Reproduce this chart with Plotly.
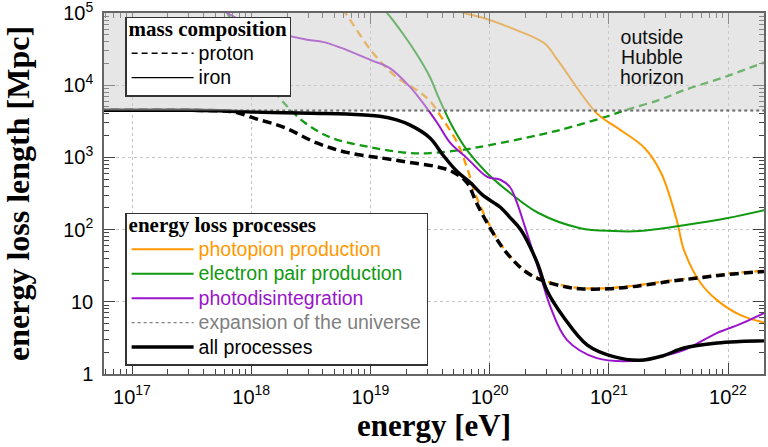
import numpy as np
import plotly.graph_objects as go

# ---------------- data (log10 of energy in eV, log10 of loss length in Mpc) ----------------
HUBBLE_MPC = 4480.0

# proton, photopion production
p_pion_logE = [18.70, 18.79, 19.02, 19.22, 19.40, 19.50, 19.61, 19.73, 19.81, 19.89, 20.00, 20.10,
               20.20, 20.30, 20.42, 20.60, 20.76, 21.00, 21.20, 21.50, 21.80, 22.00, 22.31]
p_pion_logL = [5.20, 5.00, 4.45, 4.11, 3.92, 3.78, 3.52, 3.20, 2.86, 2.45, 2.06, 1.78,
               1.58, 1.43, 1.32, 1.23, 1.19, 1.19, 1.22, 1.29, 1.35, 1.39, 1.43]

# proton, electron pair production
p_pair_logE = [17.80, 17.95, 18.12, 18.24, 18.33, 18.45, 18.66, 19.00, 19.33, 19.50, 19.75, 20.00,
               20.41, 20.59, 20.95, 21.15, 21.43, 21.63, 22.00, 22.31]
p_pair_logL = [5.00, 4.55, 4.10, 3.82, 3.66, 3.48, 3.28, 3.14, 3.06, 3.06, 3.10, 3.17,
               3.31, 3.38, 3.55, 3.66, 3.80, 3.93, 4.13, 4.32]

# proton, all processes
p_all_logE = [16.70, 17.50, 17.80, 17.88, 18.05, 18.27, 18.55, 18.80, 19.10, 19.33, 19.56, 19.69,
              19.81, 19.89, 19.98, 20.10, 20.20, 20.30, 20.42, 20.60, 20.76, 21.00, 21.20, 21.50,
              21.80, 22.00, 22.31]
p_all_logL = [3.652, 3.652, 3.64, 3.62, 3.53, 3.42, 3.20, 3.07, 2.99, 2.93, 2.87, 2.80,
              2.65, 2.37, 2.09, 1.77, 1.57, 1.42, 1.31, 1.22, 1.18, 1.18, 1.21, 1.28,
              1.34, 1.38, 1.42]

# iron, photopion production
fe_pion_logE = [19.60, 19.785, 19.95, 20.20, 20.46, 20.57, 20.90, 21.07, 21.30, 21.44, 21.57,
                21.63, 21.77, 21.91, 22.10, 22.31]
fe_pion_logL = [5.10, 5.00, 4.93, 4.78, 4.58, 4.35, 3.61, 3.41, 3.13, 2.78, 2.13,
                1.72, 1.26, 1.02, 0.82, 0.71]

# iron, electron pair production
fe_pair_logE = [19.10, 19.14, 19.27, 19.40, 19.50, 19.58, 19.69, 19.81, 19.98, 20.17, 20.41,
                20.76, 21.04, 21.26, 21.63, 22.00, 22.31]
fe_pair_logL = [5.07, 5.00, 4.72, 4.40, 4.11, 3.80, 3.42, 3.10, 2.78, 2.51, 2.23,
                2.02, 1.98, 1.98, 2.06, 2.16, 2.27]

# iron, photodisintegration
fe_pd_logE = [17.72, 17.80, 18.10, 18.47, 18.60, 18.75, 19.00, 19.16, 19.33, 19.42, 19.56, 19.67,
              19.81, 19.98, 20.09, 20.17, 20.23, 20.30, 20.42, 20.51, 20.65, 20.90, 21.20,
              21.40, 21.63, 21.91, 22.10, 22.31]
fe_pd_logL = [5.12, 5.00, 4.78, 4.63, 4.60, 4.52, 4.35, 4.24, 3.98, 3.80, 3.48, 3.20,
              2.99, 2.73, 2.69, 2.59, 2.37, 2.02, 1.40, 0.93, 0.47, 0.22, 0.18,
              0.23, 0.33, 0.57, 0.69, 0.85]

# iron, all processes
fe_all_logE = [16.70, 17.50, 18.00, 18.50, 18.80, 19.08, 19.22, 19.33, 19.50, 19.61, 19.73, 19.84,
               19.94, 20.09, 20.17, 20.26, 20.40, 20.48, 20.62, 20.82, 21.04, 21.26, 21.45,
               21.63, 21.91, 22.10, 22.31]
fe_all_logL = [3.652, 3.652, 3.63, 3.61, 3.60, 3.57, 3.52, 3.45, 3.27, 3.03, 2.80, 2.65,
               2.48, 2.31, 2.17, 2.00, 1.54, 1.16, 0.79, 0.40, 0.24, 0.19, 0.25,
               0.36, 0.43, 0.45, 0.46]

hubble_logE = [16.70, 22.31]

x_tickvals = [1e17, 1e18, 1e19, 1e20, 1e21, 1e22]
x_ticktext = ['10<sup>17</sup>', '10<sup>18</sup>', '10<sup>19</sup>', '10<sup>20</sup>',
              '10<sup>21</sup>', '10<sup>22</sup>']
y_tickvals = [1, 10, 100, 1e3, 1e4, 1e5]
y_ticktext = ['1', '10', '10<sup>2</sup>', '10<sup>3</sup>', '10<sup>4</sup>', '10<sup>5</sup>']

horizon_words = ['outside', 'Hubble', 'horizon']

ORANGE = '#ff9900'
GREEN = '#119911'
PURPLE = '#9a14cc'
GREY = '#808080'


def ten(a):
    return np.power(10.0, np.asarray(a, dtype=float))


def label(text, color='black', size=19.5):
    return '<span style="color:%s;font-size:%spx">%s</span>' % (color, size, text)


def title(text, size=21):
    return '<span style="font-size:%spx"><b>%s</b></span>' % (size, text)


fig = go.Figure()

# proton curves (dashed)
fig.add_trace(go.Scatter(x=ten(p_pair_logE), y=ten(p_pair_logL), mode='lines', line_shape='spline',
                         line=dict(color=GREEN, width=2.3, dash='8px,5px'), showlegend=False))
fig.add_trace(go.Scatter(x=ten(p_pion_logE), y=ten(p_pion_logL), mode='lines', line_shape='spline',
                         line=dict(color=ORANGE, width=2.3, dash='8px,5px'), showlegend=False))

# iron process curves (solid) -> legend 2
fig.add_trace(go.Scatter(x=ten(fe_pion_logE), y=ten(fe_pion_logL), mode='lines', line_shape='spline',
                         line=dict(color=ORANGE, width=2),
                         name=label('photopion production', ORANGE), legend='legend2'))
fig.add_trace(go.Scatter(x=ten(fe_pair_logE), y=ten(fe_pair_logL), mode='lines', line_shape='spline',
                         line=dict(color=GREEN, width=2),
                         name=label('electron pair production', GREEN), legend='legend2'))
fig.add_trace(go.Scatter(x=ten(fe_pd_logE), y=ten(fe_pd_logL), mode='lines', line_shape='spline',
                         line=dict(color=PURPLE, width=2),
                         name=label('photodisintegration', PURPLE), legend='legend2'))

# expansion of the universe
fig.add_trace(go.Scatter(x=ten(hubble_logE), y=[HUBBLE_MPC, HUBBLE_MPC], mode='lines',
                         line=dict(color='#555555', width=2.2, dash='dot'), showlegend=False))
fig.add_trace(go.Scatter(x=[None], y=[None], mode='lines',
                         line=dict(color=GREY, width=1.3, dash='dot'),
                         name=label('expansion of the universe', GREY), legend='legend2'))

# all processes
fig.add_trace(go.Scatter(x=ten(p_all_logE), y=ten(p_all_logL), mode='lines', line_shape='spline',
                         line=dict(color='black', width=3.5, dash='9px,5px'), showlegend=False))
fig.add_trace(go.Scatter(x=ten(fe_all_logE), y=ten(fe_all_logL), mode='lines', line_shape='spline',
                         line=dict(color='black', width=3.5), name=label('all processes'),
                         legend='legend2'))

# mass composition legend entries
fig.add_trace(go.Scatter(x=[None], y=[None], mode='lines', line=dict(color='black', width=1.3, dash='6px,4px'),
                         name=label('proton'), legend='legend'))
fig.add_trace(go.Scatter(x=[None], y=[None], mode='lines', line=dict(color='black', width=1.3),
                         name=label('iron'), legend='legend'))

# shaded region beyond the Hubble horizon
fig.add_shape(type='rect', xref='paper', x0=0, x1=1, yref='y',
              y0=HUBBLE_MPC, y1=1e5, fillcolor='rgba(205,205,205,0.5)',
              line=dict(width=0), layer='above')

fig.add_annotation(x=21.36, y=4.39, xref='x', yref='y', showarrow=False,
                   text='<br>'.join('<span style="font-size:19.5px">%s</span>' % w for w in horizon_words),
                   font=dict(family='Liberation Sans', size=15.4, color='#111111'))

axis_common = dict(
    type='log', ticks='inside', ticklen=11, tickwidth=1, tickcolor='#444444',
    minor=dict(ticks='inside', ticklen=5, tickwidth=1, tickcolor='#444444', dtick='D1', showgrid=False),
    showline=True, linecolor='#666666', linewidth=1.5, mirror='ticks',
    showgrid=True, gridcolor='#c4c4c4', griddash='dot', gridwidth=1, zeroline=False,
    tickfont=dict(family='Liberation Sans', size=20, color='black'),
    ticklabeloverflow='allow', automargin=False,
)

legend_common = dict(
    xanchor='left', yanchor='top', bgcolor='white', bordercolor='#333333', borderwidth=1.5,
    itemwidth=62, tracegroupgap=0,
    font=dict(family='Liberation Sans', size=16.5, color='black'),
)

fig.update_layout(
    width=768, height=447,
    margin=dict(l=104, r=4, t=13, b=73, autoexpand=False),
    paper_bgcolor='white', plot_bgcolor='white',
    xaxis=dict(axis_common, range=[16.765, 22.302], tickvals=x_tickvals, ticktext=x_ticktext,
               ticklabelstandoff=4,
               title=dict(text='<b>energy [eV]</b>', standoff=6,
                          font=dict(family='Liberation Serif', size=31, color='black'))),
    yaxis=dict(axis_common, range=[0, 5], tickvals=y_tickvals, ticktext=y_ticktext,
               ticklabelstandoff=5,
               title=dict(text='<b>energy loss length [Mpc]</b>', standoff=30,
                          font=dict(family='Liberation Serif', size=32, color='black'))),
    legend=dict(legend_common, x=0.032, y=0.989,
                title=dict(text=title('mass composition'),
                           font=dict(family='Liberation Serif', size=13.5, color='black'))),
    legend2=dict(legend_common, x=0.032, y=0.446,
                 title=dict(text=title('energy loss processes'),
                            font=dict(family='Liberation Serif', size=13.5, color='black'))),
)

# remove the browser's default page margin so the figure fills the window exactly
fig.write_html('out.html', config={'displayModeBar': False},
               post_script="document.body.style.margin='0px';")
